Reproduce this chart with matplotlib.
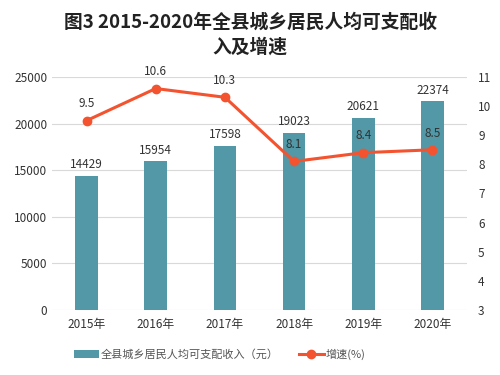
import matplotlib.pyplot as plt
import numpy as np

plt.rcParams['font.family'] = ['Noto Sans CJK SC', 'DejaVu Sans']

years = ['2015年', '2016年', '2017年', '2018年', '2019年', '2020年']
income = [14429, 15954, 17598, 19023, 20621, 22374]
growth = [9.5, 10.6, 10.3, 8.1, 8.4, 8.5]

bar_color = '#5298A6'
line_color = '#F4532F'

fig = plt.figure(figsize=(5, 3.75), dpi=100)
ax = fig.add_axes([0.104, 0.173, 0.83, 0.622])
x = np.arange(len(years))

ax.bar(x, income, width=0.33, color=bar_color, zorder=2,
       label='全县城乡居民人均可支配收入（元）')
ax.set_ylim(0, 25000)
ax.set_yticks(np.arange(0, 25001, 5000))
ax.set_xlim(-0.5, len(years) - 0.5)
ax.set_xticks(x)
ax.set_xticklabels(years)
ax.grid(axis='y', color='#d9d9d9', linewidth=0.8, zorder=0)
for s in ax.spines.values():
    s.set_visible(False)
ax.tick_params(length=0, labelsize=8.5, colors='#333333')
ax.tick_params(axis='x', pad=6)
for xi, v in zip(x, income):
    ax.text(xi, v + 500, str(v), ha='center', va='bottom', fontsize=8.5, color='#333333')

ax2 = ax.twinx()
ax2.plot(x, growth, color=line_color, linewidth=2.2, marker='o', markersize=6,
         zorder=3, label='增速(%)')
ax2.set_ylim(3, 11)
ax2.set_yticks(np.arange(3, 12, 1))
for s in ax2.spines.values():
    s.set_visible(False)
ax2.tick_params(length=0, labelsize=8.5, colors='#333333', pad=8)
for xi, v in zip(x, growth):
    ax2.text(xi, v + 0.35, f'{v}', ha='center', va='bottom', fontsize=8.5, color='#333333')

fig.text(0.5, 0.94, '图3 2015-2020年全县城乡居民人均可支配收', ha='center', va='center',
         fontsize=13.5, fontweight='bold', color='#222222')
fig.text(0.5, 0.873, '入及增速', ha='center', va='center',
         fontsize=13.5, fontweight='bold', color='#222222')

h1, l1 = ax.get_legend_handles_labels()
h2, l2 = ax2.get_legend_handles_labels()
fig.legend(h1 + h2, l1 + l2, loc='center', bbox_to_anchor=(0.44, 0.055), ncol=2,
           frameon=False, fontsize=8, handlelength=2.2, handletextpad=0.2,
           columnspacing=1.8, labelcolor='#555555')

fig.savefig('out.png', dpi=100, facecolor='white')
